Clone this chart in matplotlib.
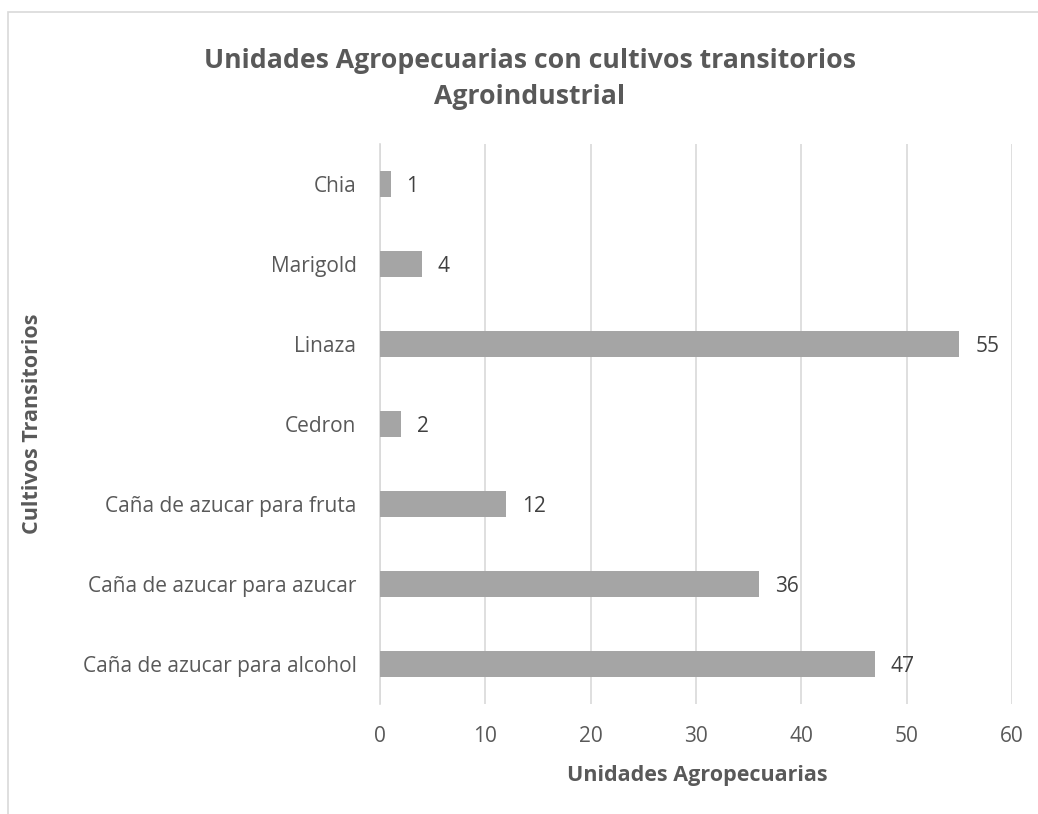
import matplotlib.pyplot as plt
from matplotlib.patches import Rectangle

CULTIVOS = [
    'Caña de azucar para alcohol',
    'Caña de azucar para azucar',
    'Caña de azucar para fruta',
    'Cedron',
    'Linaza',
    'Marigold',
    'Chia',
]
UNIDADES = [47, 36, 12, 2, 55, 4, 1]
X_TICKS = [0, 10, 20, 30, 40, 50, 60]

BAR_COLOR = '#A5A5A5'
TEXT_COLOR = '#595959'
GRID_COLOR = '#D9D9D9'

plt.rcParams['font.family'] = ['Open Sans', 'DejaVu Sans']


def main():
    fig = plt.figure(figsize=(10.38, 8.14), dpi=100)
    ax = fig.add_axes([380 / 1038, 1 - 704 / 814, 632 / 1038, 560 / 814])

    # outer chart frame (runs off the right and bottom edge)
    fig.patches.append(Rectangle((8 / 1038, -0.1), 1.2, 1 - 12 / 814 + 0.1,
                                 transform=fig.transFigure, fill=False,
                                 edgecolor='#D9D9D9', linewidth=1.2))

    pos = range(len(CULTIVOS))
    bars = ax.barh(pos, UNIDADES, height=0.33, color=BAR_COLOR, zorder=3)
    for b, v in zip(bars, UNIDADES):
        ax.text(b.get_width() + 1.5, b.get_y() + b.get_height() / 2, str(v),
                va='center_baseline', ha='left', fontsize=15, color='#404040')

    ax.set_xlim(0, 60)
    ax.set_ylim(-0.5, len(CULTIVOS) - 0.5)
    ax.set_xticks(X_TICKS)
    ax.set_yticks(list(pos))
    ax.set_yticklabels(CULTIVOS)
    ax.tick_params(axis='both', length=0, labelsize=15, labelcolor=TEXT_COLOR)
    ax.tick_params(axis='y', pad=17)
    ax.tick_params(axis='x', pad=16)
    ax.grid(axis='x', color=GRID_COLOR, linewidth=1.2, zorder=0)
    for s in ['top', 'right', 'bottom']:
        ax.spines[s].set_visible(False)
    ax.spines['left'].set_color(GRID_COLOR)
    ax.spines['left'].set_linewidth(1.2)

    fig.text(530 / 1038, 1 - 79 / 814,
             'Unidades Agropecuarias con cultivos transitorios\nAgroindustrial',
             ha='center', va='center', fontsize=19.2, fontweight='bold',
             color=TEXT_COLOR, linespacing=1.55)
    fig.text(697 / 1038, 1 - 775 / 814, 'Unidades Agropecuarias',
             ha='center', va='center', fontsize=15.5, fontweight='bold',
             color=TEXT_COLOR)
    fig.text(33 / 1038, 1 - 424 / 814, 'Cultivos Transitorios',
             ha='center', va='center', rotation=90, fontsize=15.5,
             fontweight='bold', color=TEXT_COLOR)

    fig.savefig('out.png', dpi=100)


if __name__ == '__main__':
    main()
